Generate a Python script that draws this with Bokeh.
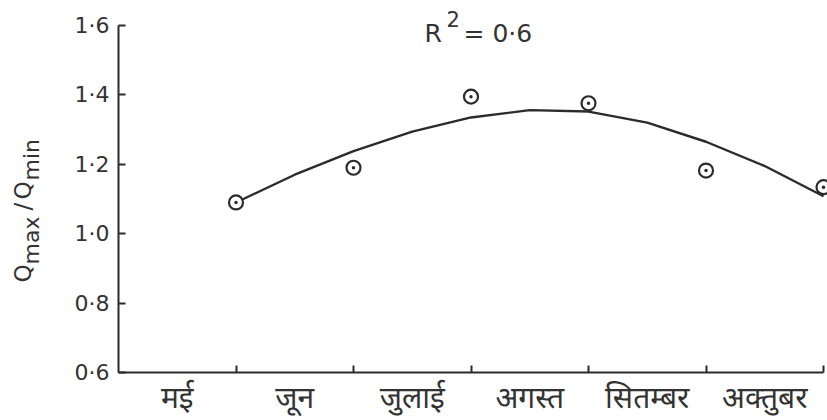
from bokeh.plotting import figure
from bokeh.models import FixedTicker, Label, Range1d
from bokeh.embed import file_html
from bokeh.resources import INLINE

# ---- data ----
months = ["मई", "जून", "जुलाई", "अगस्त", "सितम्बर", "अक्तुबर"]
month_pos = [0.5, 1.5, 2.5, 3.5, 4.5, 5.5]
boundary_ticks = [1, 2, 3, 4, 5, 6]

obs_x = [1, 2, 3, 4, 5, 6]
obs_y = [1.09, 1.19, 1.395, 1.376, 1.182, 1.134]

fit_x = [1.0, 1.5, 2.0, 2.5, 3.0, 3.5, 4.0, 4.5, 5.0, 5.5, 6.0]
fit_y = [1.090, 1.170, 1.238, 1.294, 1.335, 1.356, 1.352, 1.320, 1.265, 1.195, 1.108]

y_ticks = [0.6, 0.8, 1.0, 1.2, 1.4, 1.6]
y_tick_labels = ["0·6", "0·8", "1·0", "1·2", "1·4", "1·6"]
r2_value = "0·6"

INK = "#2b2b2b"
TXT = "#333333"

# ---- layout (pixels on the canvas) ----
W, H = 827, 420
FL, FR, FT, FB = 118.0, 823.0, 25.0, 372.0   # where the axes sit
X0, X1 = 0.0, 6.0
Y0, Y1 = 0.6, 1.6
sx = (FR - FL) / (X1 - X0)
sy = (FB - FT) / (Y1 - Y0)

def dx(px):
    return X0 + (px - FL) / sx

def dy(py):
    return Y0 + (FB - py) / sy

p = figure(width=W, height=H, output_backend="svg", toolbar_location=None,
           x_range=Range1d(dx(0), dx(W)), y_range=Range1d(dy(H), dy(0)),
           min_border_left=0, min_border_right=0, min_border_top=0, min_border_bottom=0)
p.outline_line_color = None
p.grid.visible = False
p.background_fill_color = "white"
p.border_fill_color = "white"

# x axis
xa = p.xaxis[0]
xa.fixed_location = Y0
xa.bounds = (X0, X1)
xa.ticker = FixedTicker(ticks=month_pos, minor_ticks=boundary_ticks)
xa.major_label_overrides = {pos: m for pos, m in zip(month_pos, months)}
xa.major_tick_in = 0
xa.major_tick_out = 0
xa.minor_tick_in = 7
xa.minor_tick_out = 0
xa.minor_tick_line_width = 2
xa.minor_tick_line_color = INK
xa.axis_line_width = 2
xa.axis_line_color = INK
xa.major_label_text_font = "Noto Sans"
xa.major_label_text_font_size = "30px"
xa.major_label_text_color = TXT
xa.major_label_standoff = 3

# y axis
ya = p.yaxis[0]
ya.fixed_location = X0
ya.bounds = (Y0, Y1)
ya.ticker = FixedTicker(ticks=y_ticks)
ya.major_label_overrides = {t: l for t, l in zip(y_ticks, y_tick_labels)}
ya.major_tick_in = 7
ya.major_tick_out = 0
ya.major_tick_line_width = 2
ya.major_tick_line_color = INK
ya.minor_tick_line_color = None
ya.axis_line_width = 2
ya.axis_line_color = INK
ya.major_label_text_font = "DejaVu Sans"
ya.major_label_text_font_size = "22px"
ya.major_label_text_color = TXT
ya.major_label_standoff = 9

# fitted curve and observations
p.line(fit_x, fit_y, line_color=INK, line_width=2.4)
p.scatter(obs_x, obs_y, marker="circle_dot", size=14, line_color=INK, line_width=2.2,
          fill_color="white")

# y axis label: Q_max / Q_min (rotated)
parts = [("Q", 282, 22, "23px"), ("max", 264, 31, "22px"), ("/", 210, 22, "23px"),
         ("Q", 199, 22, "23px"), ("min", 180, 31, "22px")]
for txt, ypx, xpx, fs in parts:
    p.add_layout(Label(x=dx(xpx), y=dy(ypx), text=txt, angle=1.5707963,
                       text_font="DejaVu Sans", text_font_size=fs, text_color=TXT,
                       text_align="left", text_baseline="alphabetic"))

# R^2 annotation
p.add_layout(Label(x=dx(424), y=dy(33), text="R", text_font="DejaVu Sans",
                   text_font_size="25px", text_color=TXT, text_baseline="alphabetic"))
p.add_layout(Label(x=dx(446), y=dy(18), text="2", text_font="DejaVu Sans",
                   text_font_size="21px", text_color=TXT, text_baseline="alphabetic"))
p.add_layout(Label(x=dx(463), y=dy(33), text="= " + r2_value, text_font="DejaVu Sans",
                   text_font_size="25px", text_color=TXT, text_baseline="alphabetic"))

open("out.html", "w").write(file_html(p, INLINE))
